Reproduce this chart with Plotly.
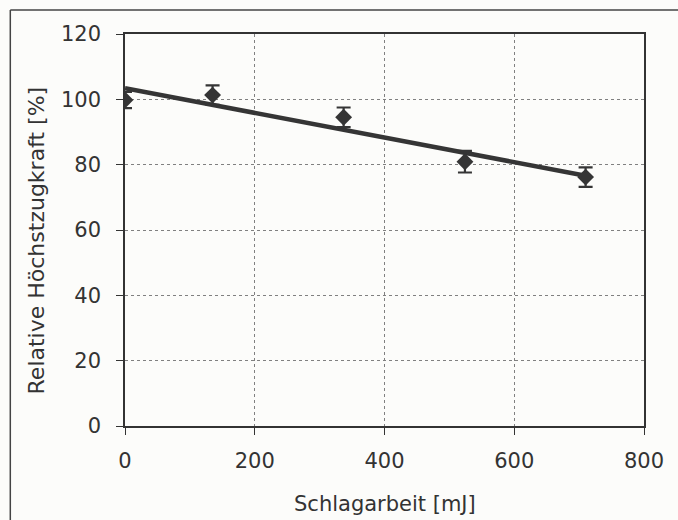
import plotly.graph_objects as go

# Data
schlagarbeit = [0, 135, 337, 524, 710]          # mJ
hoechstzugkraft = [99.8, 101.3, 94.5, 80.9, 76.2]  # %
fehler = [2.5, 3.0, 3.0, 3.3, 3.0]

trend_x = [0, 710]
trend_y = [103.4, 76.6]

x_ticks = [0, 200, 400, 600, 800]
y_ticks = [0, 20, 40, 60, 80, 100, 120]

x_title = "Schlagarbeit [mJ]"
y_title = "Relative Höchstzugkraft [%]"

ink = "#353535"
text_color = "#333333"
font_family = "DejaVu Sans, Liberation Sans, sans-serif"

fig = go.Figure()

fig.add_trace(go.Scatter(
    x=trend_x, y=trend_y, mode="lines",
    line=dict(color=ink, width=4.5), showlegend=False, hoverinfo="skip",
))

fig.add_trace(go.Scatter(
    x=schlagarbeit, y=hoechstzugkraft, mode="markers",
    marker=dict(symbol="diamond", size=13, color=ink),
    error_y=dict(type="data", array=fehler, visible=True, color=ink,
                 thickness=2.2, width=7),
    showlegend=False,
))

axis_common = dict(
    showline=True, linecolor="#333333", linewidth=1.5, mirror=True,
    ticks="outside", ticklen=7, tickwidth=1.2, tickcolor="#333333",
    showgrid=True, gridcolor="#808080", gridwidth=1, griddash="dot",
    zeroline=False, automargin=False,
    tickfont=dict(family=font_family, size=21, color=text_color),
)

fig.update_xaxes(range=[0, 800], tickvals=x_ticks, ticklabelstandoff=8, **axis_common)
fig.update_yaxes(range=[0, 120], tickvals=y_ticks, ticklabelstandoff=11, **axis_common)

# axis titles placed as annotations for exact positioning
fig.add_annotation(text=x_title, xref="paper", yref="paper", x=0.5, y=-0.2,
                   showarrow=False, xanchor="center", yanchor="middle",
                   font=dict(family=font_family, size=21, color=text_color))
fig.add_annotation(text=y_title, xref="paper", yref="paper", x=-0.171, y=0.474,
                   showarrow=False, xanchor="center", yanchor="middle", textangle=-90,
                   font=dict(family=font_family, size=22, color=text_color))

# outer frame (left and top edges of the scanned figure box)
fig.add_shape(type="line", xref="paper", yref="paper",
              x0=-0.221, x1=1.2, y0=1.061, y1=1.061,
              line=dict(color="#444444", width=1.5))
fig.add_shape(type="line", xref="paper", yref="paper",
              x0=-0.221, x1=-0.221, y0=1.061, y1=-0.3,
              line=dict(color="#444444", width=1.5))

fig.update_layout(
    width=678, height=520,
    margin=dict(l=125, r=34, t=34, b=94),
    paper_bgcolor="#fcfcfa", plot_bgcolor="#fcfcfa",
    font=dict(family=font_family, color=text_color),
)

fig.write_html("out.html", config={"displayModeBar": False},
               post_script="document.body.style.margin='0';document.body.style.overflow='hidden';")
